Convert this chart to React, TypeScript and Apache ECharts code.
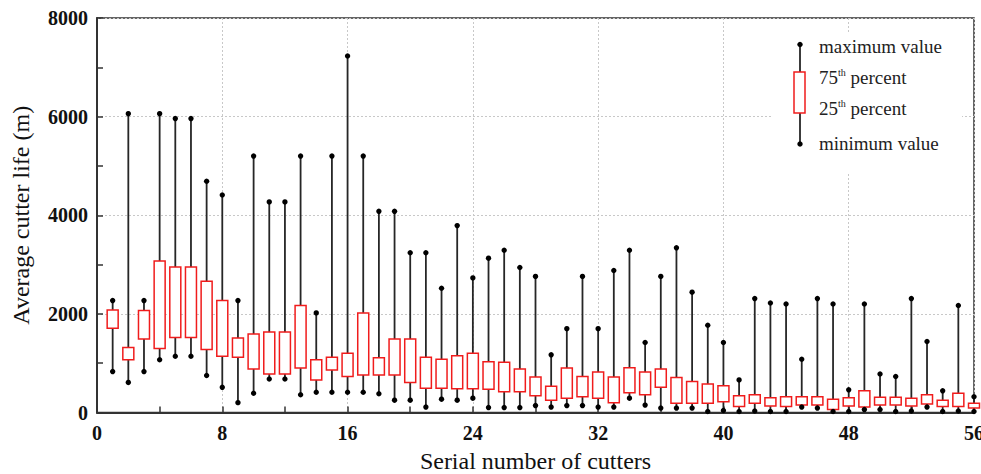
import React, { useEffect, useRef } from "react";
import * as echarts from "echarts";

const cutters = [1,2,3,4,5,6,7,8,9,10,11,12,13,14,15,16,17,18,19,20,21,22,23,24,25,26,27,28,29,30,31,32,33,34,35,36,37,38,39,40,41,42,43,44,45,46,47,48,49,50,51,52,53,54,55,56];
const maxValues = [2270,6060,2270,6060,5960,5960,4690,4410,2270,5200,4270,4270,5200,2020,5200,7230,5200,4080,4080,3240,3240,2520,3790,2730,3130,3290,2940,2760,1170,1700,2760,1700,2880,3290,1420,2760,3340,2440,1770,1420,660,2310,2220,2200,1080,2310,2200,460,2200,780,730,2310,1440,440,2170,320];
const q3Values = [2080,1320,2070,3070,2950,2950,2660,2270,1510,1590,1630,1630,2170,1070,1120,1200,2020,1110,1490,1490,1120,1080,1150,1200,1030,1020,880,720,530,900,730,820,720,910,820,880,710,630,580,540,340,360,300,320,320,320,270,300,440,310,310,290,360,250,390,190];
const q1Values = [1710,1070,1490,1300,1520,1520,1280,1140,1120,880,780,780,900,660,860,730,760,760,760,610,490,490,480,480,470,420,420,340,250,290,320,290,200,400,360,510,190,190,190,220,120,190,130,120,150,150,60,130,110,150,150,130,170,120,120,90];
const minValues = [830,610,830,1070,1140,1140,750,510,200,390,680,680,360,410,410,410,410,380,250,250,110,270,250,290,100,100,100,140,110,140,140,110,110,290,150,90,90,90,20,40,20,30,20,20,110,90,20,20,60,60,20,30,110,20,30,20];

const xTicks = { min: 0, max: 56, interval: 8 };
const yTicks = { min: 0, max: 8000, interval: 2000 };

const SERIF = "Liberation Serif";
const RED = "#f01c1c";
const DARK = "#262626";

export default function App() {
  const ref = useRef<HTMLDivElement>(null);
  useEffect(() => {
    document.body.style.margin = "0";
    if (!ref.current) return;
    const chart = echarts.init(ref.current, null, { renderer: "svg" });
    const data = cutters.map((c, i) => [c, minValues[i], q1Values[i], q3Values[i], maxValues[i]]);
    const supRich = {
      n: { fontFamily: SERIF, fontSize: 19, color: "#222" },
      s: { fontFamily: SERIF, fontSize: 10, color: "#222", verticalAlign: "top", padding: [0, 0, 8, 0] },
    };
    const option: any = {
      animation: false,
      backgroundColor: "#fff",
      textStyle: { fontFamily: SERIF },
      grid: { left: 97, right: 7, top: 18, bottom: 61.5, show: true, borderColor: "#333", borderWidth: 1.5, backgroundColor: "transparent", outerBoundsMode: "none", containLabel: false },
      xAxis: {
        type: "value",
        min: xTicks.min, max: xTicks.max, interval: xTicks.interval,
        name: "Serial number of cutters",
        nameLocation: "middle",
        nameGap: 36,
        nameTextStyle: { fontFamily: SERIF, fontSize: 24, color: "#111" },
        axisLine: { show: true, onZero: false, lineStyle: { color: "#333", width: 2 } },
        axisTick: { show: true, inside: true, length: 6, lineStyle: { color: "#333", width: 1.5 } },
        minorTick: { show: true, splitNumber: 2, length: 6, lineStyle: { color: "#333", width: 1.5 } },
        axisLabel: { fontFamily: SERIF, fontSize: 20, fontWeight: "bold", color: "#111", margin: 10, formatter: (v: number) => String(v) },
        splitLine: { show: true, lineStyle: { color: "#c8c8c8", type: [2, 2], width: 1 } },
      },
      yAxis: {
        type: "value",
        min: yTicks.min, max: yTicks.max, interval: yTicks.interval,
        name: "Average cutter life (m)",
        nameLocation: "middle",
        nameGap: 64,
        nameTextStyle: { fontFamily: SERIF, fontSize: 24, color: "#111" },
        axisLine: { show: true, lineStyle: { color: "#333", width: 2 } },
        axisTick: { show: true, inside: true, length: 6, lineStyle: { color: "#333", width: 1.5 } },
        minorTick: { show: true, splitNumber: 2, length: 6, lineStyle: { color: "#333", width: 1.5 } },
        axisLabel: { fontFamily: SERIF, fontSize: 20, fontWeight: "bold", color: "#111", margin: 9, formatter: (v: number) => String(v) },
        splitLine: { show: true, lineStyle: { color: "#c8c8c8", type: [2, 2], width: 1 } },
      },
      series: [
        {
          type: "custom",
          data,
          encode: { x: 0, y: [1, 2, 3, 4] },
          z: 3,
          renderItem: (params: any, api: any) => {
            const x = api.value(0);
            const pMin = api.coord([x, api.value(1)]);
            const pQ1 = api.coord([x, api.value(2)]);
            const pQ3 = api.coord([x, api.value(3)]);
            const pMax = api.coord([x, api.value(4)]);
            const w = 11;
            return {
              type: "group",
              children: [
                { type: "line", shape: { x1: pMin[0], y1: pMin[1], x2: pMax[0], y2: pMax[1] }, style: { stroke: DARK, lineWidth: 1.8 } },
                { type: "rect", shape: { x: pQ3[0] - w / 2, y: pQ3[1], width: w, height: pQ1[1] - pQ3[1] }, style: { fill: "#fff", stroke: RED, lineWidth: 1.5 } },
                { type: "circle", shape: { cx: pMax[0], cy: pMax[1], r: 2.7 }, style: { fill: "#000" } },
                { type: "circle", shape: { cx: pMin[0], cy: pMin[1], r: 2.7 }, style: { fill: "#000" } },
              ],
            };
          },
        },
      ],
      graphic: [
        { type: "rect", shape: { x: 773, y: 32, width: 189, height: 141 }, style: { fill: "#fff" }, z: 5 },
        { type: "line", shape: { x1: 800, y1: 44.5, x2: 800, y2: 144 }, style: { stroke: DARK, lineWidth: 1.8 }, z: 6 },
        { type: "rect", shape: { x: 794, y: 72, width: 11, height: 41 }, style: { fill: "#fff", stroke: RED, lineWidth: 1.5 }, z: 7 },
        { type: "circle", shape: { cx: 800, cy: 44.5, r: 2.7 }, style: { fill: "#000" }, z: 7 },
        { type: "circle", shape: { cx: 800, cy: 144, r: 2.7 }, style: { fill: "#000" }, z: 7 },
        { type: "text", x: 819, y: 46, style: { text: "maximum value", fontFamily: SERIF, fontSize: 19, fill: "#222", verticalAlign: "middle" }, z: 7 },
        { type: "text", x: 819, y: 77, style: { text: "{n|75}{s|th}{n| percent}", fontFamily: SERIF, fontSize: 19, fill: "#222", verticalAlign: "middle", rich: supRich }, z: 7 },
        { type: "text", x: 819, y: 108, style: { text: "{n|25}{s|th}{n| percent}", fontFamily: SERIF, fontSize: 19, fill: "#222", verticalAlign: "middle", rich: supRich }, z: 7 },
        { type: "text", x: 819, y: 143, style: { text: "minimum value", fontFamily: SERIF, fontSize: 19, fill: "#222", verticalAlign: "middle" }, z: 7 },
      ],
    };
    chart.setOption(option);
    return () => chart.dispose();
  }, []);
  return <div ref={ref} style={{ width: 981, height: 474 }} />;
}
